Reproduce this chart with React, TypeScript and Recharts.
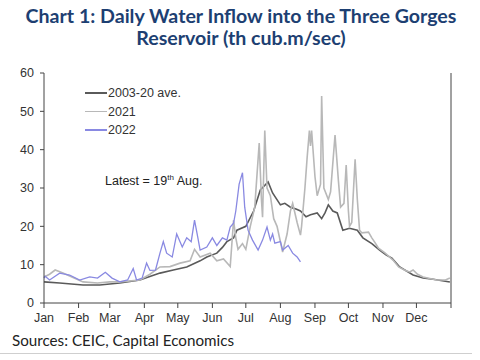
import { LineChart, Line, XAxis, YAxis } from "recharts";

// day of year -> thousand cubic metres per second
const ave2003to20 = [
  [0, 5.5], [14, 5.2], [35, 4.7], [50, 4.7], [68, 5.2], [86, 6.0], [91, 6.5],
  [104, 7.8], [116, 8.6], [128, 9.4], [140, 11], [146, 12], [155, 13], [160, 14.5],
  [164, 16], [170, 17], [173, 19], [181, 20], [188, 24], [194, 29.5], [201, 31.6],
  [205, 28.7], [212, 25.6], [216, 26], [221, 25], [226, 24.5], [230, 24], [235, 22.5],
  [239, 23], [245, 23.5], [249, 22], [252, 23.5], [255, 25.6], [259, 24], [263, 23.5],
  [268, 19], [274, 19.5], [281, 19], [286, 17], [294, 15.5], [301, 13.8], [307, 12.5],
  [312, 11.7], [319, 9.4], [331, 7.3], [340, 6.5], [349, 6.2], [364, 5.5],
];

const y2021 = [
  [0, 6.8], [5, 7.5], [10, 8.6], [17, 7.8], [25, 6.8], [35, 5.5], [48, 5.2],
  [59, 5.5], [68, 5.5], [86, 6], [95, 7.5], [104, 9.4], [113, 9.5], [122, 10.4],
  [131, 11], [135, 14], [140, 12], [149, 13], [155, 11], [161, 11.5], [167, 9.5],
  [170, 21.6], [172, 17], [174, 14], [178, 15.5], [181, 14], [185, 20], [189, 25],
  [193, 41.7], [195, 27], [196, 22.4], [198, 45], [200, 30], [203, 28], [206, 22],
  [209, 20], [214, 13.3], [218, 18], [221, 24], [223, 26], [227, 21], [230, 17.7],
  [231, 20], [234, 30], [236, 38], [238, 45], [239, 41], [240, 45], [243, 33],
  [245, 28], [248, 31], [249, 54], [251, 30], [255, 27], [257, 29], [261, 43.8],
  [264, 32], [266, 25], [269, 26], [271, 36], [273, 24], [274, 20], [276, 21],
  [279, 37.5], [281, 27], [283, 19], [285, 18.3], [291, 18.5], [294, 17],
  [297, 15.7], [300, 14.3], [306, 13], [313, 11.2], [318, 9.4], [324, 8.5],
  [328, 8.1], [331, 8.6], [335, 7.5], [340, 6.8], [352, 6], [360, 6], [364, 6.5],
];

const y2022 = [
  [0, 6.5], [1, 7], [5, 6], [14, 7.8], [23, 7.3], [32, 6], [41, 6.8], [48, 6.5],
  [55, 8], [61, 6.5], [68, 5.5], [75, 6], [80, 9], [83, 6], [88, 6.5], [92, 10.4],
  [95, 8.5], [100, 8.6], [104, 13], [107, 16], [110, 13], [115, 12], [119, 18],
  [124, 14.6], [128, 17], [132, 16], [135, 21.6], [138, 17], [140, 13.8],
  [146, 14.6], [151, 17], [155, 15], [160, 17], [164, 16.4], [167, 19.8],
  [170, 20.8], [172, 24], [175, 31], [178, 34], [180, 25], [183, 19], [187, 16.4],
  [192, 13.8], [196, 16.4], [200, 19.8], [203, 16.4], [205, 18], [207, 15.6],
  [212, 16], [214, 13.8], [219, 15], [223, 13], [227, 12], [230, 10.7],
];

const monthStarts = [0, 31, 59, 90, 120, 151, 181, 212, 243, 273, 304, 334, 365];
const monthLabels = ["Jan", "Feb", "Mar", "Apr", "May", "Jun", "Jul", "Aug", "Sep", "Oct", "Nov", "Dec", ""];
const yTicks = [0, 10, 20, 30, 40, 50, 60];

const toRows = (pts: number[][]) => pts.map(([d, v]) => ({ d, v }));

const AXIS = "#444";
const C_AVE = "#5a5a5a";
const C_2021 = "#b8b8b8";
const C_2022 = "#8989e2";

const tickStyle = { fontSize: 12.5, fill: "#333", fontFamily: "Liberation Sans, Arial, sans-serif" };

export default function App() {
  const legend = [
    { label: "2003-20 ave.", color: C_AVE },
    { label: "2021", color: C_2021 },
    { label: "2022", color: C_2022 },
  ];
  return (
    <div style={{ position: "fixed", left: 0, top: 0, width: 480, height: 360, background: "#fff", overflow: "hidden" }}>
      <div
        style={{
          position: "absolute", left: 0, top: 5, width: 482, textAlign: "center",
          fontFamily: "Lato, sans-serif", fontWeight: 700, fontSize: 19.6, lineHeight: "22px", color: "#1d3f72",
        }}
      >
        Chart 1: Daily Water Inflow into the Three Gorges
        <br />
        Reservoir (th cub.m/sec)
      </div>

      <LineChart width={480} height={360} margin={{ top: 73, right: 0, bottom: 32, left: 0 }}>
        <XAxis
          dataKey="d" type="number" domain={[0, 365]} ticks={monthStarts}
          tickFormatter={(v: number) => monthLabels[monthStarts.indexOf(v)]}
          stroke={AXIS} tickSize={5} tickMargin={5} height={25} tick={tickStyle} interval={0}
        />
        <YAxis
          yAxisId="l" orientation="left" domain={[0, 60]} ticks={yTicks} width={44}
          stroke={AXIS} tickSize={4} tickMargin={6} tick={tickStyle}
        />
        <YAxis
          yAxisId="r" orientation="right" domain={[0, 60]} ticks={yTicks} width={29}
          stroke={AXIS} tickSize={4} tickMargin={6} tick={{ ...tickStyle, textAnchor: "start" }}
        />
        <Line yAxisId="l" data={toRows(ave2003to20)} dataKey="v" stroke={C_AVE} strokeWidth={1.6} dot={false} isAnimationActive={false} />
        <Line yAxisId="l" data={toRows(y2021)} dataKey="v" stroke={C_2021} strokeWidth={1.6} dot={false} isAnimationActive={false} />
        <Line yAxisId="l" data={toRows(y2022)} dataKey="v" stroke={C_2022} strokeWidth={1.3} dot={false} isAnimationActive={false} />
      </LineChart>

      {legend.map((item, i) => (
        <div key={item.label} style={{ position: "absolute", left: 85, top: 85 + i * 18.5, display: "flex", alignItems: "center", height: 16 }}>
          <div style={{ width: 22, height: 1.5, background: item.color }} />
          <span style={{ marginLeft: 1, fontFamily: "Liberation Sans, Arial, sans-serif", fontSize: 12.5, color: "#333" }}>{item.label}</span>
        </div>
      ))}

      <div style={{ position: "absolute", left: 105, top: 173, fontFamily: "Liberation Sans, Arial, sans-serif", fontSize: 12.5, color: "#222" }}>
        Latest = 19<sup style={{ fontSize: 8 }}>th</sup> Aug.
      </div>

      <div style={{ position: "absolute", left: 12, top: 331, fontFamily: "Lato, sans-serif", fontSize: 15.2, color: "#222" }}>
        Sources: CEIC, Capital Economics
      </div>
      <div style={{ position: "absolute", left: 0, top: 353, width: 472, height: 1, background: "#cfcfcf" }} />
    </div>
  );
}
